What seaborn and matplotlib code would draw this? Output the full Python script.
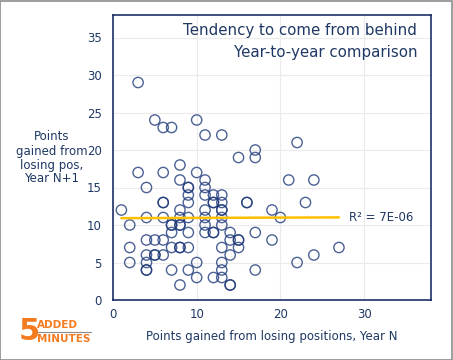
import matplotlib
matplotlib.use("Agg")
import matplotlib.pyplot as plt
import seaborn as sns
import pandas as pd
from matplotlib.patches import Rectangle
from matplotlib.lines import Line2D

# Points gained from losing positions, Year N (x) and Year N+1 (y)
year_n = [3, 5, 6, 7, 10, 11, 13, 22, 15, 17, 17, 8, 3, 6, 10, 8, 11, 21, 24, 4,
          9, 9, 11, 9, 11, 12, 13, 6, 6, 9, 12, 12, 13, 16, 16, 23, 1, 8, 11, 13,
          13, 19, 4, 6, 8, 9, 11, 13, 20, 2, 7, 7, 8, 8, 11, 13, 7, 9, 11, 12,
          12, 14, 17, 4, 5, 6, 14, 15, 15, 19, 2, 7, 8, 8, 9, 13, 15, 27, 4, 5,
          5, 6, 14, 24, 2, 4, 10, 13, 22, 4, 4, 7, 9, 13, 17, 10, 12, 13, 8, 14, 14]
year_n1 = [29, 24, 23, 23, 24, 22, 22, 21, 19, 20, 19, 18, 17, 17, 17, 16, 16, 16, 16, 15,
           15, 15, 15, 14, 14, 14, 14, 13, 13, 13, 13, 13, 13, 13, 13, 13, 12, 12, 12, 12,
           12, 12, 11, 11, 11, 11, 11, 11, 11, 10, 10, 10, 10, 10, 10, 10, 9, 9, 9, 9,
           9, 9, 9, 8, 8, 8, 8, 8, 8, 8, 7, 7, 7, 7, 7, 7, 7, 7, 6, 6,
           6, 6, 6, 6, 5, 5, 5, 5, 5, 4, 4, 4, 4, 4, 4, 3, 3, 3, 2, 2, 2]

title_lines = ["Tendency to come from behind", "Year-to-year comparison"]
x_label = "Points gained from losing positions, Year N"
y_label = "Points\ngained from\nlosing pos,\nYear N+1"
r2_label = "R² = 7E-06"
x_ticks = [0, 10, 20, 30]
y_ticks = [0, 5, 10, 15, 20, 25, 30, 35]

df = pd.DataFrame({"x": year_n, "y": year_n1})

navy = "#1F3864"
sns.set_theme(style="white")
plt.rcParams["font.family"] = ["DejaVu Sans"]

fig = plt.figure(figsize=(4.53, 3.6), dpi=100)
ax = fig.add_axes([113 / 453, 1 - 300 / 360, (431 - 113) / 453, (300 - 15) / 360])

ax.set_axisbelow(True)
ax.grid(True, color="#EBEBEB", linewidth=0.8)

sns.scatterplot(data=df, x="x", y="y", ax=ax, marker="o", s=55,
                facecolors="none", edgecolor="#1F3A7A", linewidth=1.0,
                alpha=0.8, zorder=3)
sns.regplot(data=df, x="x", y="y", ax=ax, scatter=False, ci=None, truncate=True,
            color="#FFC000", line_kws={"linewidth": 1.8, "zorder": 4})

ax.set_xlim(0, 38)
ax.set_ylim(0, 38)
ax.set_xticks(x_ticks)
ax.set_yticks(y_ticks)
ax.tick_params(axis="both", length=0, labelsize=8.5, colors="#000000", labelcolor=navy)
ax.tick_params(axis="x", pad=6)
ax.tick_params(axis="y", pad=8)
for sp in ax.spines.values():
    sp.set_visible(True)
    sp.set_color("#0B1F5C")
    sp.set_linewidth(1.1)

ax.set_xlabel(x_label, fontsize=8.5, color=navy, labelpad=6)
ax.set_ylabel("")
fig.text(52 / 453, 1 - 158 / 360, y_label, ha="center", va="center",
         fontsize=8.5, color=navy, linespacing=1.1)

ax.text(0.957, 0.944, title_lines[0], transform=ax.transAxes, ha="right", va="center",
        fontsize=10.8, color=navy)
ax.text(0.957, 0.870, title_lines[1], transform=ax.transAxes, ha="right", va="center",
        fontsize=10.8, color=navy)

ax.text(28.2, 10.95, r2_label, ha="left", va="center", fontsize=8.5, color=navy)

# logo
orange = "#F47B20"
fig.text(19 / 453, 1 - 332 / 360, "5", ha="left", va="center", fontsize=22,
         fontweight="bold", color=orange)
fig.text(37 / 453, 1 - 325 / 360, "ADDED", ha="left", va="center", fontsize=7.5,
         fontweight="bold", color=orange)
fig.text(37 / 453, 1 - 339 / 360, "MINUTES", ha="left", va="center", fontsize=7.5,
         fontweight="bold", color=orange)
fig.add_artist(Line2D([37 / 453, 91 / 453], [1 - 332 / 360, 1 - 332 / 360],
                      transform=fig.transFigure, color="#8C8C8C", linewidth=0.8))

fig.patches.append(Rectangle((0.001, 0.001), 0.997, 0.997, transform=fig.transFigure,
                             fill=False, edgecolor="#8C8C8C", linewidth=1.2))

fig.savefig("out.png", dpi=100)
